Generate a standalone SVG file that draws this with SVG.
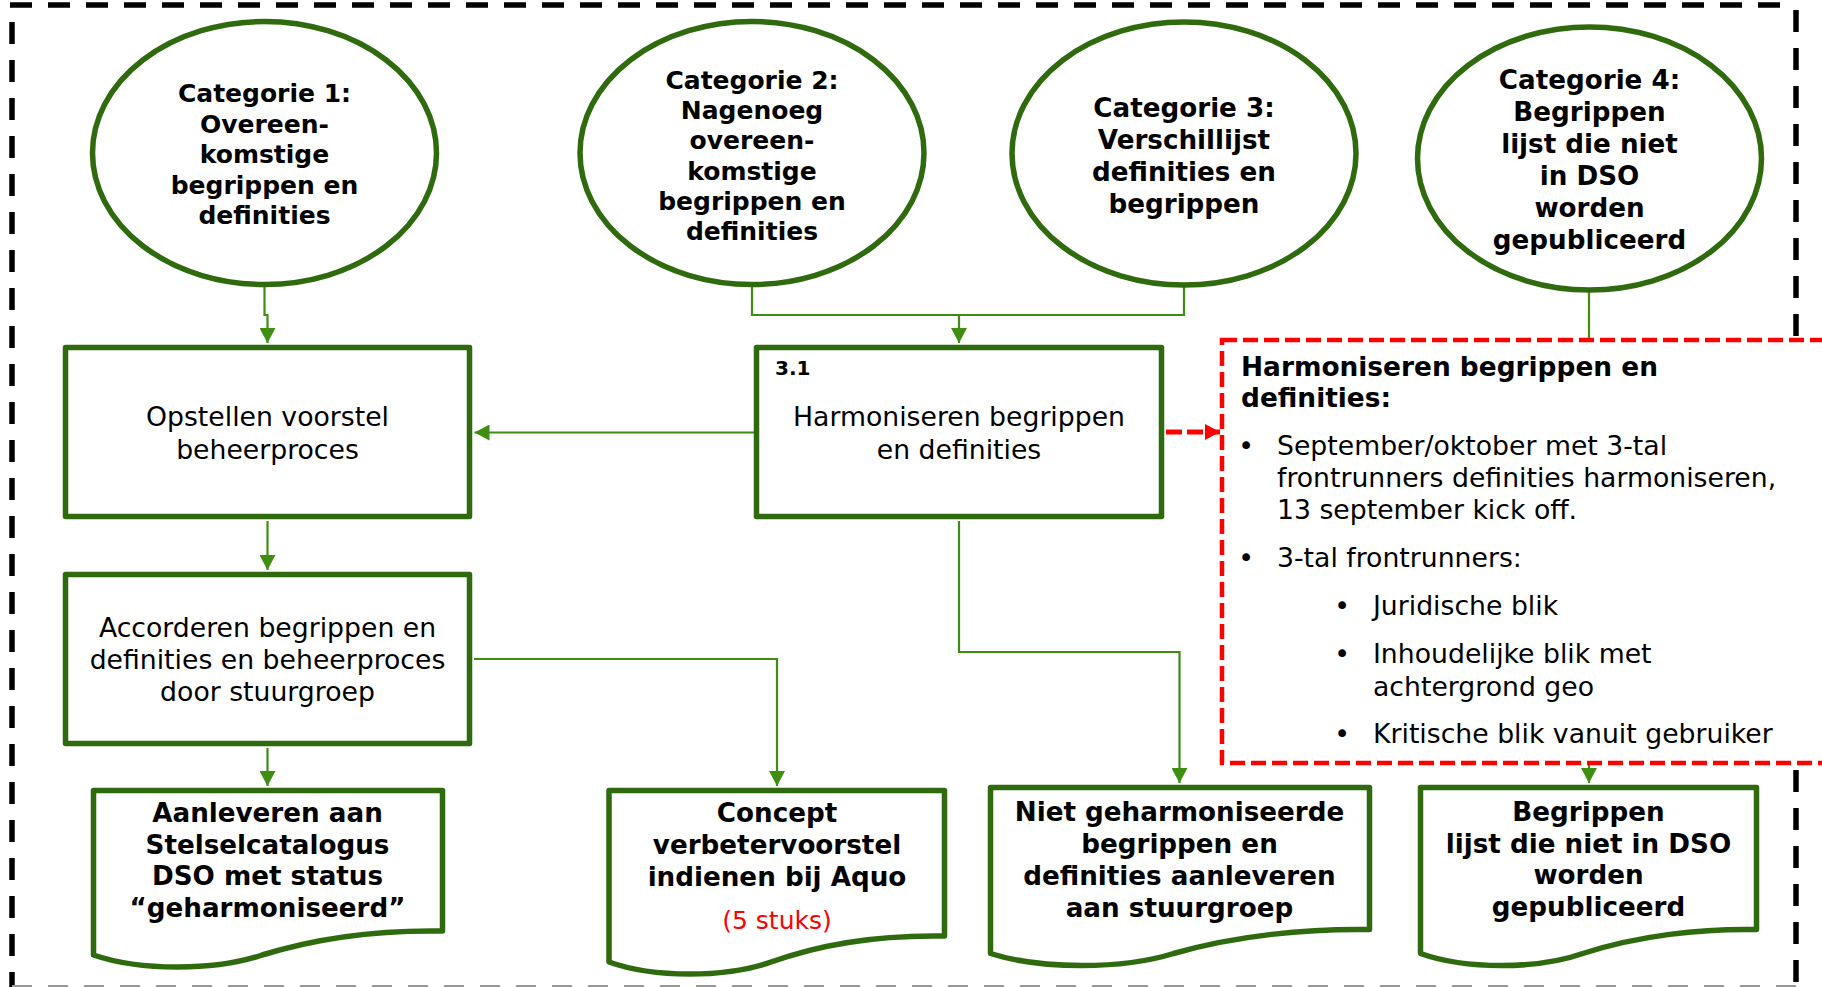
<svg xmlns="http://www.w3.org/2000/svg" width="1822" height="987" viewBox="0 0 1822 987">
<style>
.shape{fill:#fff;stroke:#2F6B0E;stroke-width:5.5;stroke-linejoin:round}
.con{fill:none;stroke:#3E8E12;stroke-width:2.2}
.b{font-family:"DejaVu Sans",Verdana,sans-serif;font-weight:bold;font-size:26.2px;fill:#000;text-anchor:middle}
.b25{font-size:25px}
.r{font-family:"DejaVu Sans",Verdana,sans-serif;font-size:26.7px;fill:#000;text-anchor:middle}
.l{font-family:"DejaVu Sans",Verdana,sans-serif;font-size:26.7px;fill:#000}
.border{fill:none;stroke:#000;stroke-width:5.5;stroke-dasharray:22 16}
</style>
<defs>
<marker id="ah" viewBox="0 0 15 16" refX="15" refY="8" markerWidth="15" markerHeight="16" markerUnits="userSpaceOnUse" orient="auto">
<path d="M0,0 L15,8 L0,16 Z" fill="#3E8E12"/>
</marker>
<marker id="ahr" viewBox="0 0 15 16" refX="15" refY="8" markerWidth="15" markerHeight="16" markerUnits="userSpaceOnUse" orient="auto">
<path d="M0,0 L15,8 L0,16 Z" fill="#FF0000"/>
</marker>
</defs>
<rect width="1822" height="987" fill="#fff"/>
<g id="frame">
<path class="border" d="M10,5 H1786"/>
<path class="border" d="M12,22 V987"/>
<path class="border" d="M1796,10 V987"/>
<path d="M12,986 H1796" fill="none" stroke="#999" stroke-width="2" stroke-dasharray="20 16"/>
</g>
<g id="connectors">
<path class="con" d="M264.5,287 V315 H267.5 V343" marker-end="url(#ah)"/>
<path class="con" d="M752,287 V315 H1184 V287"/>
<path class="con" d="M959,315 V343" marker-end="url(#ah)"/>
<path class="con" d="M754,432.5 H474.5" marker-end="url(#ah)"/>
<path class="con" d="M267.5,521 V570" marker-end="url(#ah)"/>
<path class="con" d="M267.5,748 V786" marker-end="url(#ah)"/>
<path class="con" d="M474,659 H777 V786" marker-end="url(#ah)"/>
<path class="con" d="M959,521 V652 H1179.5 V783" marker-end="url(#ah)"/>
<path class="con" d="M1589,292 V783" marker-end="url(#ah)"/>
<path d="M1166,432 H1220" fill="none" stroke="#FF0000" stroke-width="5" stroke-dasharray="16 5" marker-end="url(#ahr)"/>
</g>
<g id="cat1">
<ellipse class="shape" cx="264.5" cy="153" rx="172" ry="131.5"/>
<text class="b b25" x="264.5" y="102">Categorie 1:<tspan x="264.5" dy="30.5">Overeen-</tspan><tspan x="264.5" dy="30.5">komstige</tspan><tspan x="264.5" dy="30.5">begrippen en</tspan><tspan x="264.5" dy="30.5">definities</tspan></text>
</g>
<g id="cat2">
<ellipse class="shape" cx="752" cy="153" rx="172" ry="131.5"/>
<text class="b b25" x="752" y="89">Categorie 2:<tspan x="752" dy="30.2">Nagenoeg</tspan><tspan x="752" dy="30.2">overeen-</tspan><tspan x="752" dy="30.2">komstige</tspan><tspan x="752" dy="30.2">begrippen en</tspan><tspan x="752" dy="30.2">definities</tspan></text>
</g>
<g id="cat3">
<ellipse class="shape" cx="1184" cy="153.5" rx="172" ry="131.5"/>
<text class="b" x="1184" y="117">Categorie 3:<tspan x="1184" dy="32">Verschillijst</tspan><tspan x="1184" dy="32">definities en</tspan><tspan x="1184" dy="32">begrippen</tspan></text>
</g>
<g id="cat4">
<ellipse class="shape" cx="1589.5" cy="158.5" rx="172" ry="131.5"/>
<text class="b" x="1589.5" y="89">Categorie 4:<tspan x="1589.5" dy="32">Begrippen</tspan><tspan x="1589.5" dy="32">lijst die niet</tspan><tspan x="1589.5" dy="32">in DSO</tspan><tspan x="1589.5" dy="32">worden</tspan><tspan x="1589.5" dy="32">gepubliceerd</tspan></text>
</g>
<g id="opstellen">
<rect class="shape" x="65.5" y="347.5" width="404" height="169"/>
<text class="r" x="267.5" y="426">Opstellen voorstel<tspan x="267.5" dy="32.5">beheerproces</tspan></text>
</g>
<g id="harmoniseren">
<rect class="shape" x="756.5" y="347.5" width="405" height="169"/>
<text class="b" x="775" y="375" style="font-size:20px;text-anchor:start">3.1</text>
<text class="r" x="959" y="426">Harmoniseren begrippen<tspan x="959" dy="32.5">en definities</tspan></text>
</g>
<g id="accorderen">
<rect class="shape" x="65.5" y="574.5" width="404" height="169"/>
<text class="r" x="267.5" y="637">Accorderen begrippen en<tspan x="267.5" dy="32">definities en beheerproces</tspan><tspan x="267.5" dy="32">door stuurgroep</tspan></text>
</g>
<g id="callout">
<rect x="1222" y="340" width="640" height="423" fill="#fff" stroke="#FF0000" stroke-width="4.5" stroke-dasharray="15 6"/>
<text class="l" x="1241" y="376" font-weight="bold" style="font-size:26.4px">Harmoniseren begrippen en<tspan x="1241" dy="31">definities:</tspan></text>
<text class="r" x="1246" y="455">•</text>
<text class="l" x="1277" y="455">September/oktober met 3-tal<tspan x="1277" dy="32">frontrunners definities harmoniseren,</tspan><tspan x="1277" dy="32">13 september kick off.</tspan></text>
<text class="r" x="1246" y="567">•</text>
<text class="l" x="1277" y="567">3-tal frontrunners:</text>
<text class="r" x="1342" y="615">•</text>
<text class="l" x="1373" y="615">Juridische blik</text>
<text class="r" x="1342" y="663">•</text>
<text class="l" x="1373" y="663">Inhoudelijke blik met<tspan x="1373" dy="33">achtergrond geo</tspan></text>
<text class="r" x="1342" y="743">•</text>
<text class="l" x="1373" y="743">Kritische blik vanuit gebruiker</text>
</g>
<g id="doc1">
<path class="shape" d="M93.5,790.5 H442.5 V931 C385,930 320,937 262,955 C215,971 140,971 93.5,955 Z"/>
<text class="b" x="267.5" y="822">Aanleveren aan<tspan x="267.5" dy="31.7">Stelselcatalogus</tspan><tspan x="267.5" dy="31.7">DSO met status</tspan><tspan x="267.5" dy="31.7">“geharmoniseerd”</tspan></text>
</g>
<g id="doc2">
<path class="shape" d="M609,790.5 H944.5 V936 C889,935 826.5,942 771,962 C726,978 653.6,978 609,962 Z"/>
<text class="b" x="777" y="822">Concept<tspan x="777" dy="32">verbetervoorstel</tspan><tspan x="777" dy="32">indienen bij Aquo</tspan></text>
<text class="r" x="777" y="929" style="font-size:25px;fill:#FF0000">(5 stuks)</text>
</g>
<g id="doc3">
<path class="shape" d="M990.5,787.5 H1369.5 V929.5 C1307,928.5 1236,935.5 1173.5,953.5 C1122.4,969.5 1041,969.5 990.5,953.5 Z"/>
<text class="b" x="1179.5" y="821">Niet geharmoniseerde<tspan x="1179.5" dy="32">begrippen en</tspan><tspan x="1179.5" dy="32">definities aanleveren</tspan><tspan x="1179.5" dy="32">aan stuurgroep</tspan></text>
</g>
<g id="doc4">
<path class="shape" d="M1420.5,787.5 H1756.5 V929.5 C1701,928.5 1638.2,935.5 1582.8,953.5 C1537.4,969.5 1465.2,969.5 1420.5,953.5 Z"/>
<text class="b" x="1588.5" y="821">Begrippen<tspan x="1588.5" dy="31.7">lijst die niet in DSO</tspan><tspan x="1588.5" dy="31.7">worden</tspan><tspan x="1588.5" dy="31.7">gepubliceerd</tspan></text>
</g>
</svg>
